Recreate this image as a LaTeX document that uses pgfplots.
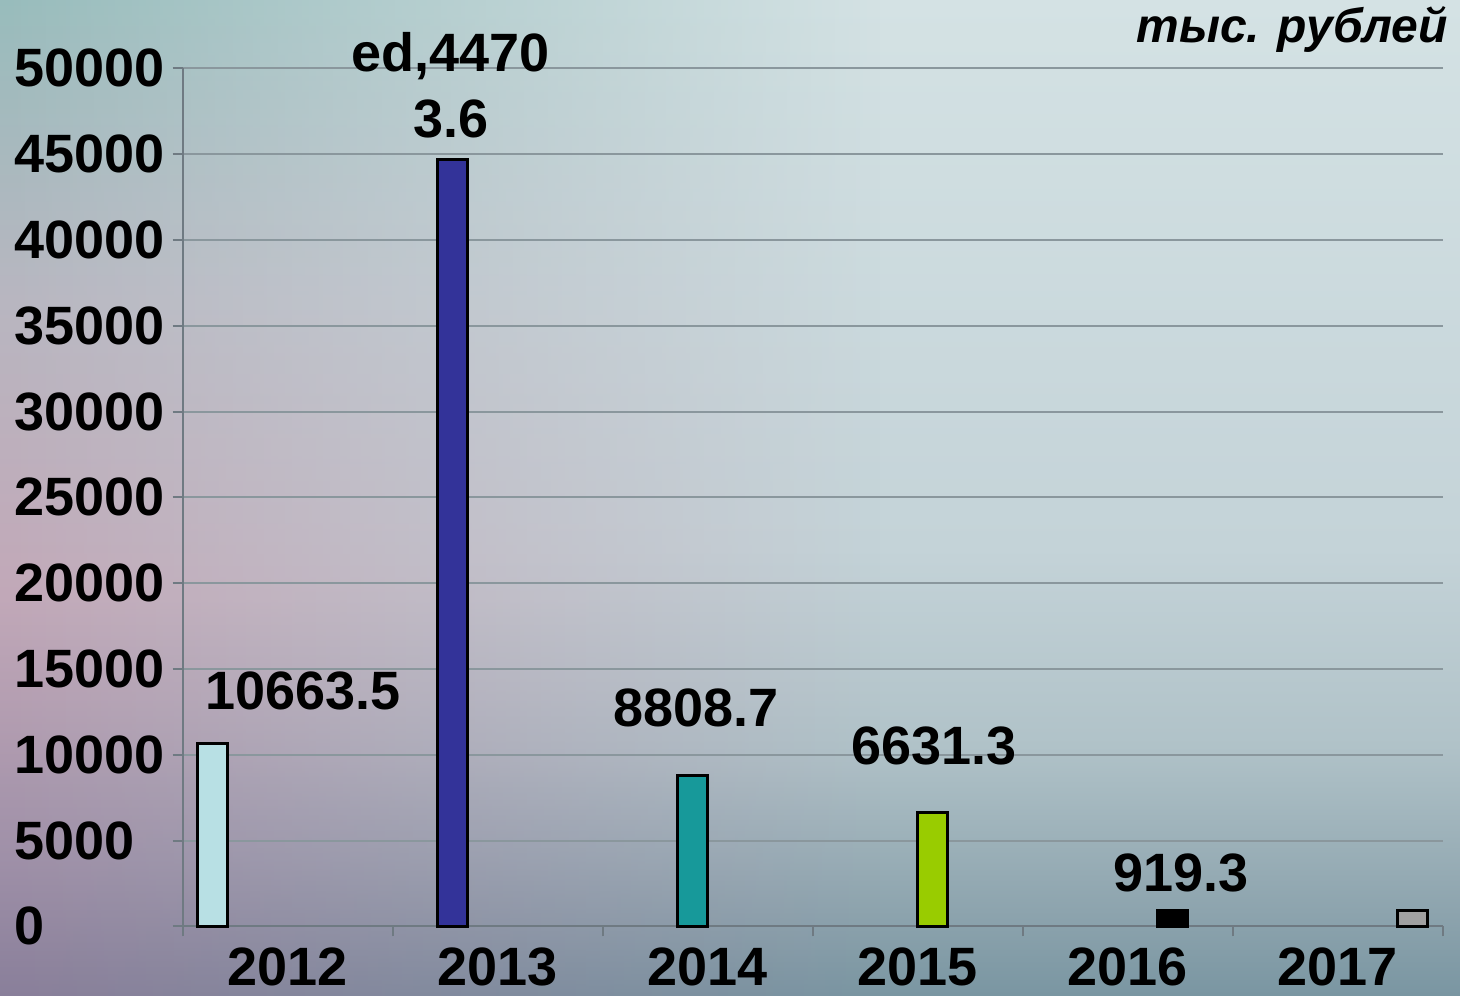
\documentclass[border=0pt]{standalone}
\usepackage{pgfplots}
\pgfplotsset{compat=1.18}
\usetikzlibrary{fadings}
\usepackage{fontspec}
\setmainfont{Liberation Sans}
\definecolor{gridgray}{HTML}{8A979D}
\definecolor{axisgray}{HTML}{6F7A82}
\definecolor{c2012}{HTML}{B8E0E4}
\definecolor{c2013}{HTML}{333399}
\definecolor{c2014}{HTML}{17999A}
\definecolor{c2015}{HTML}{99CC00}
\definecolor{c2016}{HTML}{000000}
\definecolor{c2017}{HTML}{A0A0A0}
\pgfdeclareverticalshading{rightcol}{100bp}{%
  color(0bp)=(rgb,255:red,122;green,150;blue,162);
  color(25bp)=(rgb,255:red,122;green,150;blue,162);
  color(29bp)=(rgb,255:red,140;green,163;blue,173);
  color(37.5bp)=(rgb,255:red,176;green,194;blue,200);
  color(47.5bp)=(rgb,255:red,196;green,211;blue,216);
  color(75bp)=(rgb,255:red,212;green,226;blue,228);
  color(100bp)=(rgb,255:red,212;green,226;blue,228)}
\pgfdeclareverticalshading{leftcol}{100bp}{%
  color(0bp)=(rgb,255:red,138;green,127;blue,154);
  color(25bp)=(rgb,255:red,138;green,127;blue,154);
  color(32bp)=(rgb,255:red,160;green,144;blue,168);
  color(45bp)=(rgb,255:red,194;green,168;blue,184);
  color(60bp)=(rgb,255:red,184;green,182;blue,192);
  color(75bp)=(rgb,255:red,152;green,188;blue,188);
  color(100bp)=(rgb,255:red,152;green,188;blue,188)}
\newcommand{\bigf}{\bfseries\fontsize{27}{32}\selectfont}
\begin{document}
\begin{tikzpicture}[x=1pt,y=1pt]
\useasboundingbox (0,0) rectangle (730,497.5);
\shade[shading=rightcol] (0,0) rectangle (730,497.5);
\shade[shading=leftcol, path fading=east] (0,0) rectangle (440,497.5);
\begin{axis}[
  at={(87,40)}, anchor=south west, scale only axis,
  width=630pt, height=429pt,
  xmin=0, xmax=6, ymin=0, ymax=50000,
  axis lines=left, axis line style={-, draw=axisgray, line width=1pt},
  clip=false,
  ytick={0,5000,...,50000},
  ymajorgrids, grid style={draw=gridgray, line width=1pt},
  tick align=outside, major tick length=5pt,
  tick style={draw=axisgray, line width=1pt},
  xtick={0,1,...,6}, xticklabels={},
  extra x ticks={0.5,1.5,2.5,3.5,4.5,5.5},
  extra x tick labels={2012,2013,2014,2015,2016,2017},
  extra x tick style={major tick length=0pt, xticklabel style={yshift=-7pt}},
  ticklabel style={font=\bigf},
  yticklabel style={text width=75pt, align=left, anchor=east, xshift=-0.5pt},
  /pgf/number format/1000 sep={},
  /pgf/number format/assume math mode=true,
  scaled y ticks=false,
]
\addplot[ybar, bar width=15pt, bar shift=0pt, fill=c2012, draw=black, line width=1.5pt] coordinates {(0.142857,10663.5)};
\addplot[ybar, bar width=15pt, bar shift=0pt, fill=c2013, draw=black, line width=1.5pt] coordinates {(1.285714,44703.6)};
\addplot[ybar, bar width=15pt, bar shift=0pt, fill=c2014, draw=black, line width=1.5pt] coordinates {(2.428571,8808.7)};
\addplot[ybar, bar width=15pt, bar shift=0pt, fill=c2015, draw=black, line width=1.5pt] coordinates {(3.571429,6631.3)};
\addplot[ybar, bar width=15pt, bar shift=0pt, fill=c2016, draw=black, line width=1.5pt] coordinates {(4.714286,919.3)};
\addplot[ybar, bar width=15pt, bar shift=0pt, fill=c2017, draw=black, line width=1.5pt] coordinates {(5.857143,950)};
\node[font=\bigf] at (axis cs:0.571,13695) {10663.5};
\node[font=\bigf] at (axis cs:1.276,50699) {ed,4470};
\node[font=\bigf] at (axis cs:1.276,47028) {3.6};
\node[font=\bigf] at (axis cs:2.443,12704) {8808.7};
\node[font=\bigf] at (axis cs:3.576,10490) {6631.3};
\node[font=\bigf] at (axis cs:4.752,3089) {919.3};
\end{axis}
\node[font=\bfseries\itshape\fontsize{24}{28}\selectfont, anchor=east, inner sep=0pt] at (724,482.5) {тыс. рублей};
\end{tikzpicture}
\end{document}
